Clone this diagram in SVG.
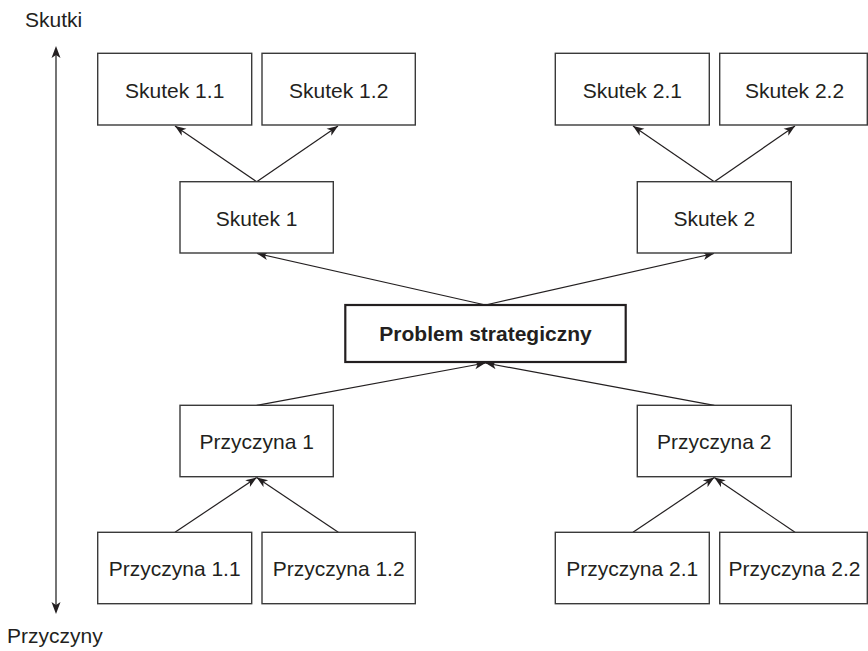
<svg xmlns="http://www.w3.org/2000/svg" width="868" height="651" viewBox="0 0 868 651">
<style>
.box{fill:#fff;stroke:#3a3a3a;stroke-width:1.4}
.main{fill:#fff;stroke:#231f20;stroke-width:2.2}
.t{font-family:"Liberation Sans",Arial,sans-serif;font-size:21px;fill:#231f20;text-anchor:middle}
.b{font-weight:bold}
.lbl{font-family:"Liberation Sans",Arial,sans-serif;font-size:21px;fill:#231f20}
.c{stroke:#231f20;stroke-width:1.2;fill:none;marker-end:url(#ah)}
.ax{stroke:#3a3a3a;stroke-width:1.4;fill:none}
</style>
<defs>
<marker id="ah" markerWidth="12" markerHeight="10" refX="11" refY="5" orient="auto" markerUnits="userSpaceOnUse">
<path d="M0,0.8 L11,5 L0,9.2 L3,5 Z" fill="#231f20"/>
</marker>
</defs>
<g id="axis">
<line class="ax" x1="56" y1="52" x2="56" y2="608" />
<path d="M56,46 L60.5,58 L56,55 L51.5,58 Z" fill="#231f20"/>
<path d="M56,614 L60.5,602 L56,605 L51.5,602 Z" fill="#231f20"/>
<text class="lbl" x="25" y="27">Skutki</text>
<text class="lbl" x="7" y="643">Przyczyny</text>
</g>
<g id="connectors">
<line class="c" x1="256.7" y1="181.7" x2="175" y2="126"/>
<line class="c" x1="256.7" y1="181.7" x2="338" y2="126"/>
<line class="c" x1="714.3" y1="181.7" x2="633" y2="126"/>
<line class="c" x1="714.3" y1="181.7" x2="795" y2="126"/>
<line class="c" x1="485.5" y1="305" x2="257" y2="253.5"/>
<line class="c" x1="485.5" y1="305" x2="714" y2="253.5"/>
<line class="c" x1="256.7" y1="405.3" x2="485.5" y2="363"/>
<line class="c" x1="714.3" y1="405.3" x2="485.5" y2="363"/>
<line class="c" x1="175" y1="532.3" x2="256.7" y2="477.5"/>
<line class="c" x1="338.3" y1="532.3" x2="256.7" y2="477.5"/>
<line class="c" x1="633" y1="532.3" x2="714.3" y2="477.5"/>
<line class="c" x1="795" y1="532.3" x2="714.3" y2="477.5"/>
</g>
<g id="s11"><rect class="box" x="97.7" y="53.3" width="154" height="71.7"/><text class="t" x="174.7" y="97.5">Skutek 1.1</text></g>
<g id="s12"><rect class="box" x="262" y="53.3" width="153.3" height="71.7"/><text class="t" x="338.7" y="97.5">Skutek 1.2</text></g>
<g id="s21"><rect class="box" x="555.3" y="53.3" width="154" height="71.7"/><text class="t" x="632.3" y="97.5">Skutek 2.1</text></g>
<g id="s22"><rect class="box" x="719.7" y="53.3" width="147.6" height="71.7"/><text class="t" x="794.5" y="97.5">Skutek 2.2</text></g>
<g id="s1"><rect class="box" x="180" y="181.7" width="153.3" height="71.3"/><text class="t" x="256.7" y="225.5">Skutek 1</text></g>
<g id="s2"><rect class="box" x="637.3" y="181.7" width="154" height="71.3"/><text class="t" x="714.3" y="225.5">Skutek 2</text></g>
<g id="problem"><rect class="main" x="345.3" y="305" width="280.4" height="57"/><text class="t b" x="485.5" y="340.7">Problem strategiczny</text></g>
<g id="p1"><rect class="box" x="180" y="405.3" width="153.3" height="71.4"/><text class="t" x="256.7" y="448.5">Przyczyna 1</text></g>
<g id="p2"><rect class="box" x="637.3" y="405.3" width="154" height="71.4"/><text class="t" x="714.3" y="448.5">Przyczyna 2</text></g>
<g id="p11"><rect class="box" x="97.7" y="532.3" width="154" height="71.4"/><text class="t" x="174.7" y="576">Przyczyna 1.1</text></g>
<g id="p12"><rect class="box" x="262" y="532.3" width="153.3" height="71.4"/><text class="t" x="338.7" y="576">Przyczyna 1.2</text></g>
<g id="p21"><rect class="box" x="555.3" y="532.3" width="154" height="71.4"/><text class="t" x="632.3" y="576">Przyczyna 2.1</text></g>
<g id="p22"><rect class="box" x="719.7" y="532.3" width="147.6" height="71.4"/><text class="t" x="794.5" y="576">Przyczyna 2.2</text></g>
</svg>
